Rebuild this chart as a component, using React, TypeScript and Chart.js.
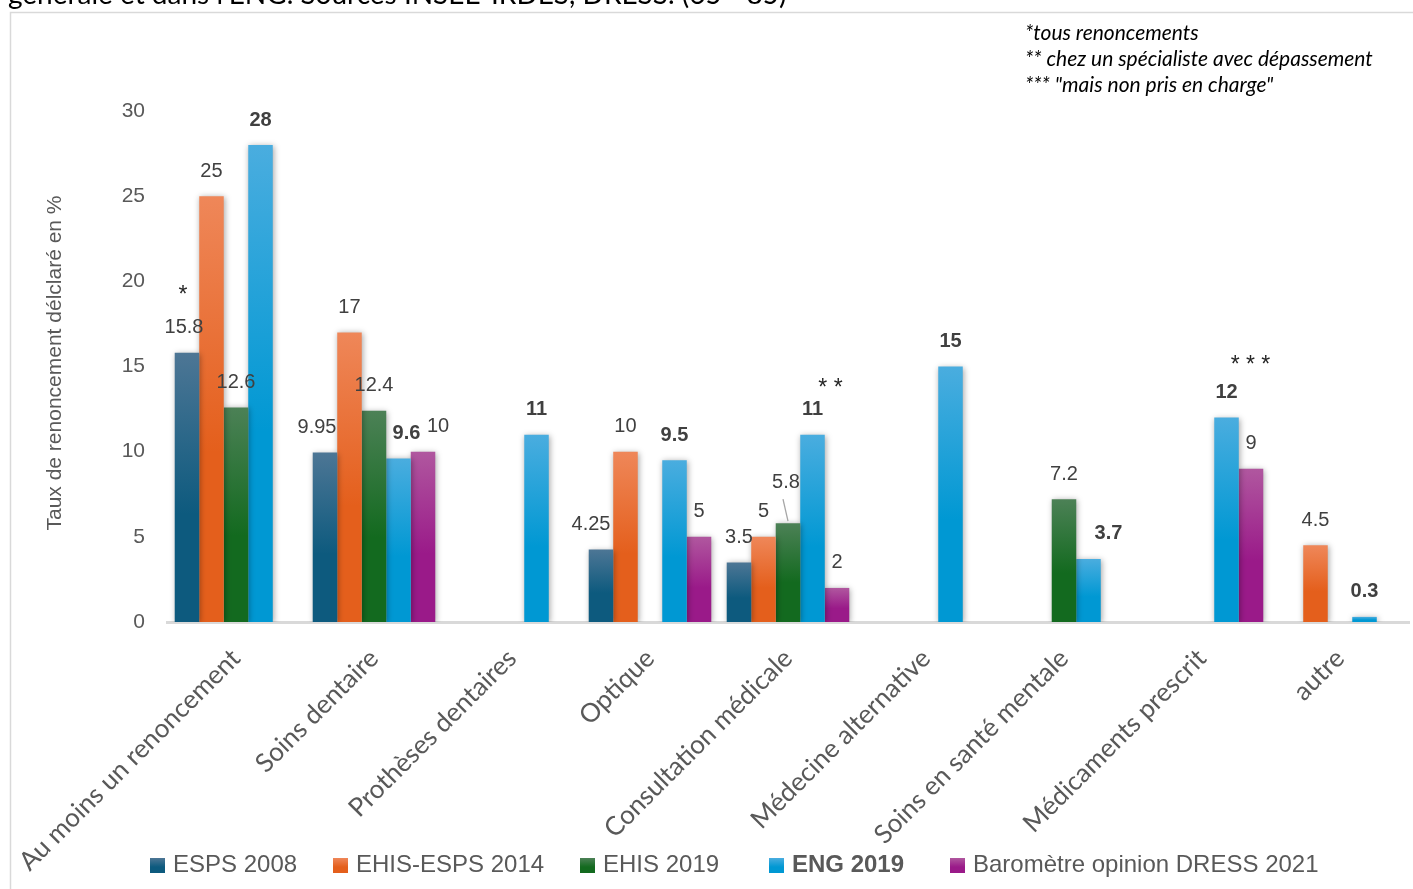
import React, { useEffect, useRef } from "react";
import { Chart, registerables } from "chart.js";

Chart.register(...registerables);

const categories = [
  "Au moins un renoncement",
  "Soins dentaire",
  "Prothèses dentaires",
  "Optique",
  "Consultation médicale",
  "Médecine alternative",
  "Soins en santé mentale",
  "Médicaments prescrit",
  "autre",
];

const esps2008 = [15.8, 9.95, null, 4.25, 3.5, null, null, null, null];
const ehisEsps2014 = [25, 17, null, 10, 5, null, null, null, 4.5];
const ehis2019 = [12.6, 12.4, null, null, 5.8, null, 7.2, null, null];
const eng2019 = [28, 9.6, 11, 9.5, 11, 15, 3.7, 12, 0.3];
const barometre2021 = [null, 10, null, 5, 2, null, null, 9, null];

const seriesNames = [
  "ESPS 2008",
  "EHIS-ESPS 2014",
  "EHIS 2019",
  "ENG 2019",
  "Baromètre opinion DRESS 2021",
];
const seriesValues = [esps2008, ehisEsps2014, ehis2019, eng2019, barometre2021];
const yTickStep = 5;
const yMax = 30;

const titleFragment = "générale et dans l'ENG. Sources INSEE-IRDES, DRESS. (65 - 85)";
const yAxisTitle = "Taux de renoncement délclaré en %";
const footnotes = [
  "*tous renoncements",
  "** chez un spécialiste avec dépassement",
  '*** "mais non pris en charge"',
];

// styles
const colorsTop = ["#4d7695", "#ef8759", "#4c8156", "#4aaddf", "#b0579f"];
const colorsBottom = ["#0d5a7e", "#e45f1c", "#136a1f", "#0098d3", "#9a1a89"];
const boldSeries = [false, false, false, true, false];
const legendBoxX = [150, 333, 580, 769, 950];

// label nudges keyed "dataset-index" -> [dx, dy]
const labelNudges: Record<string, [number, number]> = {
  "0-0": [-3, 0],
  "0-1": [-8, 0],
  "0-3": [-10, 0],
  "2-4": [-2, -16],
  "3-1": [8, 0],
  "3-6": [20, 0],
  "4-1": [15, 0],
};
const starNotes = [
  { ds: 0, i: 0, text: "*", dx: -4, dy: -38 },
  { ds: 3, i: 4, text: "* *", dx: 18, dy: -27 },
  { ds: 3, i: 7, text: "* * *", dx: 24, dy: -33 },
];
const leaderLines = [{ ds: 2, i: 4 }];

function makeGradient(ctx: CanvasRenderingContext2D, top: number, base: number, s: number) {
  const g = ctx.createLinearGradient(0, top, 0, base);
  g.addColorStop(0, colorsTop[s]);
  g.addColorStop(0.6, colorsBottom[s]);
  g.addColorStop(1, colorsBottom[s]);
  return g;
}

const decorPlugin = {
  id: "decor",
  beforeDatasetsDraw(chart: any) {
    const ctx = chart.ctx;
    ctx.save();
    ctx.shadowColor = "rgba(0,0,0,0.35)";
    ctx.shadowBlur = 6;
    ctx.shadowOffsetX = 1;
    ctx.shadowOffsetY = 1;
  },
  afterDatasetsDraw(chart: any) {
    chart.ctx.restore();
  },
  afterDraw(chart: any) {
    const ctx: CanvasRenderingContext2D = chart.ctx;
    ctx.save();
    // frame
    ctx.strokeStyle = "#d9d9d9";
    ctx.lineWidth = 1.5;
    ctx.strokeRect(10.5, 12.5, 1420, 900);

    // title fragment (cut by top edge)
    ctx.fillStyle = "#000000";
    ctx.font = "28px Lato";
    ctx.textAlign = "left";
    ctx.textBaseline = "alphabetic";
    ctx.fillText(titleFragment, 8, 4);

    // footnotes
    ctx.font = "italic 21px Lato";
    ctx.textBaseline = "middle";
    footnotes.forEach((t, k) => ctx.fillText(t, 1025, 33 + k * 26));

    // y axis title
    ctx.save();
    ctx.translate(55, 363);
    ctx.rotate(-Math.PI / 2);
    ctx.fillStyle = "#595959";
    ctx.font = "21px 'Liberation Sans'";
    ctx.textAlign = "center";
    ctx.textBaseline = "middle";
    ctx.fillText(yAxisTitle, 0, 0);
    ctx.restore();

    // data labels
    ctx.textAlign = "center";
    ctx.textBaseline = "middle";
    seriesValues.forEach((vals, d) => {
      const meta = chart.getDatasetMeta(d);
      vals.forEach((v, i) => {
        if (v == null) return;
        const el = meta.data[i];
        const n = labelNudges[`${d}-${i}`] || [0, 0];
        ctx.fillStyle = "#404040";
        ctx.font = `${boldSeries[d] ? "bold " : ""}20px 'Liberation Sans'`;
        ctx.fillText(String(v), el.x + n[0], el.y - 25 + n[1]);
      });
    });

    // leader lines
    ctx.strokeStyle = "#a6a6a6";
    ctx.lineWidth = 1.3;
    leaderLines.forEach(({ ds, i }) => {
      const el = chart.getDatasetMeta(ds).data[i];
      ctx.beginPath();
      ctx.moveTo(el.x - 5, el.y - 24);
      ctx.lineTo(el.x, el.y - 2);
      ctx.stroke();
    });

    // stars
    ctx.fillStyle = "#262626";
    ctx.font = "23px 'Liberation Sans'";
    starNotes.forEach((s) => {
      const el = chart.getDatasetMeta(s.ds).data[s.i];
      ctx.fillText(s.text, el.x + s.dx, el.y - 25 + s.dy + 6);
    });

    // legend
    const ly = 865;
    seriesNames.forEach((name, s) => {
      const x = legendBoxX[s];
      ctx.fillStyle = makeGradient(ctx, ly - 7, ly + 8, s);
      ctx.fillRect(x, ly - 7, 15, 15);
      ctx.font = `${boldSeries[s] ? "bold " : ""}24px 'Liberation Sans'`;
      ctx.fillStyle = "#595959";
      ctx.textAlign = "left";
      ctx.textBaseline = "middle";
      ctx.fillText(name, x + 23, ly);
    });
    ctx.restore();
  },
};

export default function App() {
  const ref = useRef<HTMLCanvasElement>(null);
  useEffect(() => {
    if (!ref.current) return;
    const chart = new Chart(ref.current, {
      type: "bar",
      data: {
        labels: categories,
        datasets: seriesValues.map((vals, s) => ({
          label: seriesNames[s],
          data: vals,
          barPercentage: 1,
          categoryPercentage: 0.888,
          backgroundColor: (c: any) => {
            const y = c.chart.scales?.y;
            if (!y || c.type !== "data" || c.raw == null) return colorsBottom[s];
            const top = y.getPixelForValue(c.raw);
            const base = y.getPixelForValue(0);
            if (!isFinite(top) || !isFinite(base) || top === base) return colorsBottom[s];
            return makeGradient(c.chart.ctx, top, base, s);
          },
        })),
      },
      options: {
        responsive: false,
        animation: false,
        layout: { padding: { top: 111, left: 0, right: 4, bottom: 0 } },
        plugins: { legend: { display: false }, tooltip: { enabled: false }, title: { display: false } },
        scales: {
          x: {
            grid: { display: false, drawTicks: false },
            border: { display: true, color: "#d9d9d9", width: 3 },
            ticks: {
              color: "#595959",
              font: { family: "Lato", size: 26 },
              minRotation: 45,
              maxRotation: 45,
              autoSkip: false,
              padding: 21,
            },
            afterFit: (sc: any) => {
              sc.height = 267;
              sc.paddingLeft = 0;
              sc.paddingRight = 0;
              sc.paddingTop = 0;
              sc.paddingBottom = 0;
            },
          },
          y: {
            min: 0,
            max: yMax,
            grid: { display: false, drawTicks: false },
            border: { display: false },
            ticks: {
              stepSize: yTickStep,
              color: "#595959",
              font: { family: "'Liberation Sans'", size: 21 },
              padding: 22,
            },
            afterFit: (sc: any) => {
              sc.width = 167;
              sc.paddingTop = 0;
              sc.paddingBottom = 0;
            },
          },
        },
      },
      plugins: [decorPlugin],
    });
    return () => chart.destroy();
  }, []);
  return (
    <div style={{ position: "absolute", left: 0, top: 0, width: 1413, height: 889, background: "#fff" }}>
      <canvas ref={ref} width={1413} height={889} style={{ display: "block" }} />
    </div>
  );
}
